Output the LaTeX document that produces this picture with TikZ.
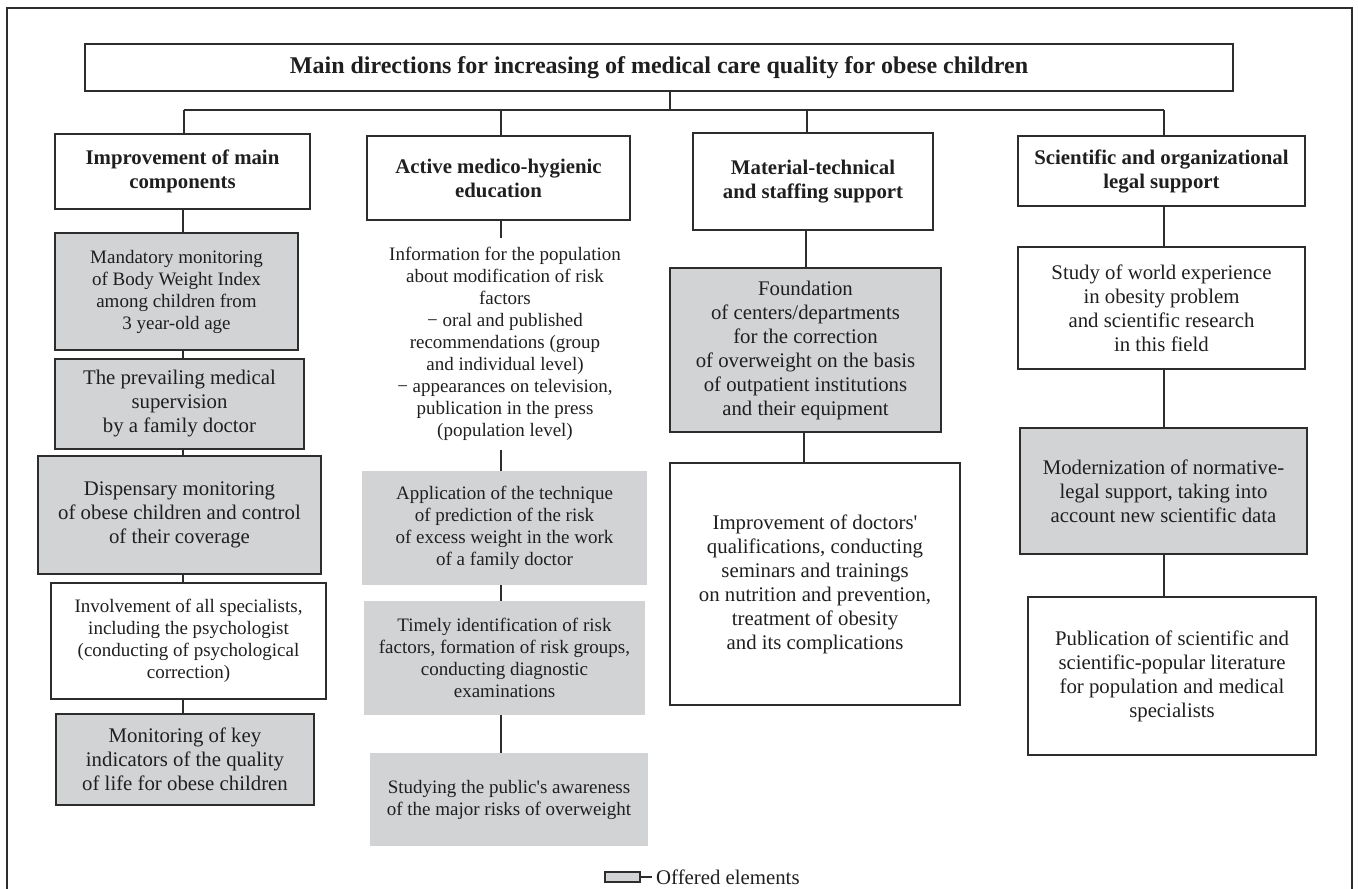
\documentclass[tikz,border=0pt]{standalone}
\usepackage{fontspec}
\setmainfont{Liberation Serif}
\definecolor{offgray}{RGB}{210,211,213}
\definecolor{ln}{RGB}{45,45,45}
\tikzset{
  base/.style={align=center, inner sep=0pt, text=black!88},
  wbox/.style={base, draw=ln, line width=1.6pt, fill=white},
  gbox/.style={wbox, fill=offgray},
  gflat/.style={base, fill=offgray},
  sm/.style={font=\fontsize{19}{22}\selectfont},
  lg/.style={font=\fontsize{20.8}{24}\selectfont},
  hd/.style={font=\fontsize{20.8}{24}\selectfont\bfseries},
  ttl/.style={font=\fontsize{24}{28}\selectfont\bfseries},
  conn/.style={draw=ln, line width=1.2pt},
  frame/.style={draw=ln, line width=1.5pt}
}
\begin{document}
\begin{tikzpicture}[x=1pt,y=-1pt]
\useasboundingbox (0,0) rectangle (1358,889);
% outer frame
\draw[frame] (7,900) -- (7,8) -- (1352,8) -- (1352,900);

% title
\node[wbox,ttl,minimum width=1148pt,minimum height=47pt] (title) at (659,67.5)
  {Main directions for increasing of medical care quality for obese children};

% headers
\node[wbox,hd,minimum width=255pt,minimum height=75pt] (h1) at (182.5,171.5) {Improvement of main\\components};
\node[wbox,hd,minimum width=263pt,minimum height=84pt] (h2) at (498.5,178) {Active medico-hygienic\\education};
\node[wbox,hd,minimum width=240pt,minimum height=97pt] (h3) at (813,181.5) {Material-technical\\and staffing support};
\node[wbox,hd,minimum width=287pt,minimum height=70pt] (h4) at (1161.5,171) {Scientific and organizational\\legal support};

% column 1
\node[gbox,sm,minimum width=243pt,minimum height=117pt] (a1) at (176.5,291.5)
  {Mandatory monitoring\\of Body Weight Index\\among children from\\3 year-old age};
\node[gbox,lg,minimum width=249pt,minimum height=90pt] (a2) at (179.5,404)
  {The prevailing medical\\supervision\\by a family doctor};
\node[gbox,lg,minimum width=283pt,minimum height=118pt] (a3) at (179.5,515)
  {Dispensary monitoring\\of obese children and control\\of their coverage};
\node[wbox,sm,minimum width=275pt,minimum height=116pt] (a4) at (188.5,641)
  {Involvement of all specialists,\\including the psychologist\\(conducting of psychological\\correction)};
\node[gbox,lg,minimum width=258pt,minimum height=91pt] (a5) at (185,759.5)
  {Monitoring of key\\indicators of the quality\\of life for obese children};

% column 2
\node[base,sm,minimum width=260pt,minimum height=212pt] (info) at (505,344)
  {Information for the population\\about modification of risk\\factors\\−\ oral and published\\recommendations (group\\and individual level)\\−\ appearances on television,\\publication in the press\\(population level)};
\node[gflat,sm,minimum width=285pt,minimum height=114pt] (b1) at (504.5,528)
  {Application of the technique\\of prediction of the risk\\of excess weight in the work\\of a family doctor};
\node[gflat,sm,minimum width=281pt,minimum height=114pt] (b2) at (504.5,658)
  {Timely identification of risk\\factors, formation of risk groups,\\conducting diagnostic\\examinations};
\node[gflat,sm,minimum width=278pt,minimum height=93pt] (b3) at (509,799.5)
  {Studying the public\textquotesingle s awareness\\of the major risks of overweight};

% column 3
\node[gbox,lg,minimum width=271pt,minimum height=164pt] (c1) at (805.5,350)
  {Foundation\\of centers/departments\\for the correction\\of overweight on the basis\\of outpatient institutions\\and their equipment};
\node[wbox,lg,minimum width=290pt,minimum height=242pt] (c2) at (815,584)
  {Improvement of doctors\textquotesingle\\qualifications, conducting\\seminars and trainings\\on nutrition and prevention,\\treatment of obesity\\and its complications};

% column 4
\node[wbox,lg,minimum width=287pt,minimum height=122pt] (d1) at (1161.5,308)
  {Study of world experience\\in obesity problem\\and scientific research\\in this field};
\node[gbox,lg,minimum width=287pt,minimum height=126pt] (d2) at (1163.5,491)
  {Modernization of normative-\\legal support, taking into\\account new scientific data};
\node[wbox,lg,minimum width=288pt,minimum height=158pt] (d3) at (1172,676)
  {Publication of scientific and\\scientific-popular literature\\for population and medical\\specialists};

% bus and drops
\coordinate (bt) at (670,110);
\coordinate (bl) at (184,110);
\coordinate (bm) at (501,110);
\coordinate (bn) at (807,110);
\coordinate (br) at (1164,110);
\draw[conn] (title.south -| bt) -- (bt);
\draw[conn] (bl) -- (br);
\draw[conn] (bl) -- (h1.north -| bl);
\draw[conn] (bm) -- (h2.north -| bm);
\draw[conn] (bn) -- (h3.north -| bn);
\draw[conn] (br) -- (h4.north -| br);

% column connectors
\coordinate (x1) at (183,0);
\draw[conn] (h1.south -| x1) -- (a1.north -| x1);
\draw[conn] (a1.south -| x1) -- (a2.north -| x1);
\draw[conn] (a2.south -| x1) -- (a3.north -| x1);
\draw[conn] (a3.south -| x1) -- (a4.north -| x1);
\draw[conn] (a4.south -| x1) -- (a5.north -| x1);

\coordinate (x2) at (501,0);
\draw[conn] (h2.south -| x2) -- (info.north -| x2);
\draw[conn] (info.south -| x2) -- (b1.north -| x2);
\draw[conn] (b1.south -| x2) -- (b2.north -| x2);
\draw[conn] (b2.south -| x2) -- (b3.north -| x2);

\coordinate (x3) at (806,0);
\coordinate (x3b) at (804,0);
\draw[conn] (h3.south -| x3) -- (c1.north -| x3);
\draw[conn] (c1.south -| x3b) -- (c2.north -| x3b);

\coordinate (x4) at (1164,0);
\draw[conn] (h4.south -| x4) -- (d1.north -| x4);
\draw[conn] (d1.south -| x4) -- (d2.north -| x4);
\draw[conn] (d2.south -| x4) -- (d3.north -| x4);

% legend
\node[gbox,line width=1.4pt,minimum width=35pt,minimum height=10pt] (leg) at (622.5,877) {};
\node[base,lg,anchor=base west] (legt) at (656,884) {Offered elements};
\draw[conn] (leg.east) -- ([xshift=-4pt]legt.west |- leg.east);
\end{tikzpicture}
\end{document}
